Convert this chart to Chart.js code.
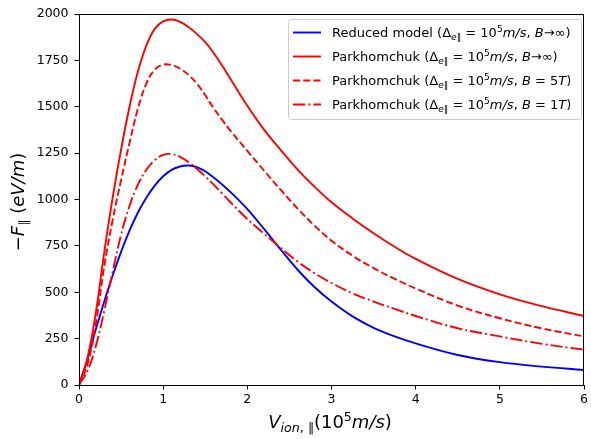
<!DOCTYPE html>
<html>
<head>
<meta charset="utf-8">
<script src="https://cdn.jsdelivr.net/npm/chart.js@4"></script>
<style>
html, body { margin: 0; padding: 0; background: #fff; }
#wrap { width: 591px; height: 439px; }
</style>
</head>
<body>
<div id="wrap"><canvas id="forceChart" width="591" height="439"></canvas></div>
<script>
// ion velocity (1e5 m/s)
var vIon = [0, 0.1, 0.2, 0.3, 0.4, 0.5, 0.6, 0.7, 0.8, 0.9, 1.0, 1.1, 1.2, 1.3, 1.4, 1.5, 1.6, 1.7, 1.8,
            2.0, 2.2, 2.4, 2.6, 2.8, 3.0, 3.25, 3.5, 3.75, 4.0, 4.5, 5.0, 5.5, 6.0];
// -F (eV/m)
var reducedModel = [0, 138, 300, 450, 590, 718, 832, 930, 1010, 1075, 1125, 1160, 1178, 1183, 1175, 1152, 1118, 1081, 1040,
                    948, 840, 728, 620, 527, 450, 370, 308, 262, 224, 162, 123, 99, 81];
var parkInf = [0, 145, 390, 715, 1010, 1270, 1500, 1690, 1830, 1920, 1960, 1970, 1958, 1930, 1893, 1848, 1790, 1722, 1650,
               1505, 1375, 1265, 1160, 1068, 985, 898, 818, 745, 680, 572, 489, 425, 372];
var park5T = [0, 110, 330, 640, 890, 1105, 1305, 1490, 1625, 1700, 1727, 1725, 1705, 1672, 1625, 1562, 1492, 1430, 1370,
              1262, 1155, 1050, 950, 858, 778, 697, 630, 572, 520, 428, 360, 305, 262];
var park1T = [0, 75, 210, 400, 610, 810, 965, 1080, 1160, 1212, 1240, 1245, 1230, 1202, 1165, 1125, 1080, 1033, 985,
              895, 815, 738, 665, 602, 550, 494, 450, 410, 372, 306, 262, 222, 190];

var xTicks = [0, 1, 2, 3, 4, 5, 6];
var yTicks = [0, 250, 500, 750, 1000, 1250, 1500, 1750, 2000];

// legend / axis text: ~ toggles italic, _{..} subscript, ^{..} superscript
var seriesNames = ["Reduced model", "Parkhomchuk", "Parkhomchuk", "Parkhomchuk"];
var legendTexts = [
    "Reduced model (Δ_{~e~∥} = 10^{5}~m/s~, ~B~→∞)",
    "Parkhomchuk (Δ_{~e~∥} = 10^{5}~m/s~, ~B~→∞)",
    "Parkhomchuk (Δ_{~e~∥} = 10^{5}~m/s~, ~B~ = 5~T~)",
    "Parkhomchuk (Δ_{~e~∥} = 10^{5}~m/s~, ~B~ = 1~T~)"
];
var xTitle = "~V~_{~ion~, ∥}(10^{5}~m/s~)";
var yTitle = "−~F~_{∥} (~eV/m~)";

var colors = ['#0000ff', '#ff0000', '#ff0000', '#ff0000'];
var dashes = [[], [], [7.1, 3.1], [12.3, 3.1, 1.9, 3.1]];
var FONT = '"DejaVu Sans", sans-serif';

function parseRich(str) {
    var segs = [], italic = false, mode = 'n', buf = '';
    function push() { if (buf) segs.push({ t: buf, it: italic, m: mode }); buf = ''; }
    for (var i = 0; i < str.length; i++) {
        var c = str[i];
        if (c === '~') { push(); italic = !italic; }
        else if ((c === '_' || c === '^') && str[i + 1] === '{') { push(); mode = c === '_' ? 'sub' : 'sup'; i++; }
        else if (c === '}' && mode !== 'n') { push(); mode = 'n'; }
        else buf += c;
    }
    push();
    return segs;
}

function segFont(s, size) {
    var fs = s.m === 'n' ? size : size * 0.7;
    return (s.it ? 'italic ' : '') + fs + 'px ' + FONT;
}

function richWidth(ctx, segs, size) {
    var w = 0;
    segs.forEach(function (s) { ctx.font = segFont(s, size); w += ctx.measureText(s.t).width; });
    return w;
}

function drawRich(ctx, segs, x, y, size) {
    ctx.textAlign = 'left';
    ctx.textBaseline = 'alphabetic';
    segs.forEach(function (s) {
        ctx.font = segFont(s, size);
        var dy = s.m === 'sub' ? size * 0.22 : (s.m === 'sup' ? -size * 0.4 : 0);
        ctx.fillText(s.t, x, y + dy);
        x += ctx.measureText(s.t).width;
    });
}

var decorPlugin = {
    id: 'decor',
    afterDatasetsDraw: function (chart) {
        var ctx = chart.ctx, a = chart.chartArea;
        ctx.save();
        // frame
        ctx.strokeStyle = '#000';
        ctx.lineWidth = 1;
        ctx.strokeRect(Math.round(a.left) + 0.5, Math.round(a.top) + 0.5,
                       Math.round(a.right - a.left) - 1, Math.round(a.bottom - a.top));

        // legend box
        var bx = 288.5, by = 19.5, bw = 293, bh = 100, r = 3;
        ctx.beginPath();
        ctx.moveTo(bx + r, by);
        ctx.arcTo(bx + bw, by, bx + bw, by + bh, r);
        ctx.arcTo(bx + bw, by + bh, bx, by + bh, r);
        ctx.arcTo(bx, by + bh, bx, by, r);
        ctx.arcTo(bx, by, bx + bw, by, r);
        ctx.closePath();
        ctx.fillStyle = 'rgba(255,255,255,0.8)';
        ctx.fill();
        ctx.strokeStyle = '#cccccc';
        ctx.stroke();

        for (var i = 0; i < legendTexts.length; i++) {
            var cy = 32.5 + i * 24;
            ctx.beginPath();
            ctx.setLineDash(dashes[i]);
            ctx.strokeStyle = colors[i];
            ctx.lineWidth = 1.9;
            ctx.moveTo(293, cy);
            ctx.lineTo(321, cy);
            ctx.stroke();
            ctx.setLineDash([]);
            ctx.fillStyle = '#000';
            drawRich(ctx, parseRich(legendTexts[i]), 332, cy + 4.5, 13);
        }

        // axis titles
        ctx.fillStyle = '#000';
        var xs = parseRich(xTitle);
        var xw = richWidth(ctx, xs, 18);
        drawRich(ctx, xs, 330 - xw / 2, 428, 18);

        var ys = parseRich(yTitle);
        var yw = richWidth(ctx, ys, 18);
        ctx.translate(24, 202);
        ctx.rotate(-Math.PI / 2);
        drawRich(ctx, ys, -yw / 2, 0, 18);
        ctx.restore();
    }
};

var datasets = [reducedModel, parkInf, park5T, park1T].map(function (vals, i) {
    return {
        label: seriesNames[i],
        data: vIon.map(function (v, k) { return { x: v, y: vals[k] }; }),
        borderColor: colors[i],
        borderWidth: 1.9,
        borderDash: dashes[i],
        pointRadius: 0,
        fill: false,
        tension: 0.4,
        order: 4 - i
    };
});

function axisStyle(ticks) {
    return {
        type: 'linear',
        min: ticks[0],
        max: ticks[ticks.length - 1],
        afterBuildTicks: function (scale) {
            scale.ticks = ticks.map(function (v) { return { value: v }; });
        },
        ticks: {
            color: '#000',
            font: { family: FONT, size: 12.5 },
            autoSkip: false,
            maxRotation: 0,
            callback: function (v) { return String(v); }
        },
        grid: {
            display: true,
            drawOnChartArea: false,
            drawTicks: true,
            tickLength: 4.5,
            tickWidth: 1,
            tickColor: '#000'
        },
        border: { display: true, color: '#000', width: 1 }
    };
}

var xAxis = axisStyle(xTicks);
xAxis.ticks.padding = 3;
xAxis.afterFit = function (scale) { scale.height = 54; };
var yAxis = axisStyle(yTicks);
yAxis.ticks.padding = 6;
yAxis.afterFit = function (scale) { scale.width = 79; };

new Chart(document.getElementById('forceChart').getContext('2d'), {
    type: 'line',
    data: { datasets: datasets },
    options: {
        responsive: false,
        animation: false,
        devicePixelRatio: 1,
        layout: { padding: { top: 14, right: 3, left: 0, bottom: 0 } },
        plugins: { legend: { display: false }, tooltip: { enabled: false } },
        scales: { x: xAxis, y: yAxis }
    },
    plugins: [decorPlugin]
});
</script>
</body>
</html>
